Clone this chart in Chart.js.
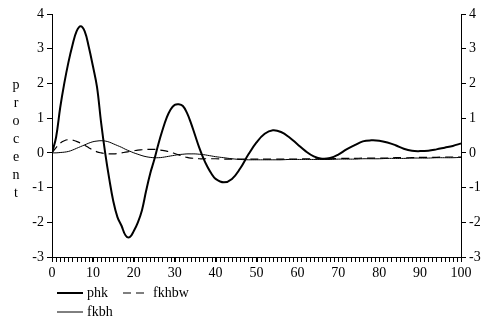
<!DOCTYPE html>
<html>
<head>
<meta charset="utf-8">
<script src="https://cdn.jsdelivr.net/npm/chart.js@4"></script>
<style>
  html, body { margin: 0; padding: 0; background: #fff; }
  #wrap { width: 484px; height: 320px; position: relative; }
</style>
</head>
<body>
<div id="wrap"><canvas id="chart" width="484" height="320"></canvas></div>
<script>
// x positions (step 1 up to 40, then step 2)
const xs = [
  0, 1, 2, 3, 4, 5, 6, 7, 8, 9, 10, 11, 12, 13, 14, 15, 16, 17, 18, 19, 20,
  21, 22, 23, 24, 25, 26, 27, 28, 29, 30, 31, 32, 33, 34, 35, 36, 37, 38, 39, 40,
  42, 44, 46, 48, 50, 52, 54, 56, 58, 60, 62, 64, 66, 68, 70,
  72, 74, 76, 78, 80, 82, 84, 86, 88, 90, 92, 94, 96, 98, 100
];

const phk = [
  0, 0.45, 1.3, 2.0, 2.6, 3.1, 3.5, 3.65, 3.5, 3.05, 2.5, 1.9, 0.88, 0.0, -0.75, -1.4, -1.85, -2.1, -2.38, -2.43, -2.25,
  -2.0, -1.65, -1.1, -0.6, -0.2, 0.25, 0.65, 1.0, 1.25, 1.38, 1.4, 1.35, 1.15, 0.85, 0.5, 0.15, -0.15, -0.4, -0.6, -0.75,
  -0.85, -0.75, -0.45, -0.05, 0.3, 0.55, 0.65, 0.6, 0.45, 0.25, 0.05, -0.1, -0.17, -0.15, -0.05,
  0.1, 0.22, 0.33, 0.36, 0.35, 0.3, 0.22, 0.12, 0.06, 0.05, 0.06, 0.1, 0.15, 0.2, 0.27
];

const fkhbw = [
  0, 0.15, 0.28, 0.35, 0.38, 0.37, 0.33, 0.28, 0.22, 0.15, 0.08, 0.03, 0.0, -0.02, -0.03, -0.03, -0.02, 0.0, 0.02, 0.04, 0.06,
  0.08, 0.09, 0.1, 0.1, 0.1, 0.09, 0.07, 0.05, 0.02, -0.02, -0.06, -0.1, -0.13, -0.15, -0.16, -0.17, -0.17, -0.17, -0.17, -0.17,
  -0.18, -0.18, -0.18, -0.18, -0.18, -0.18, -0.18, -0.18, -0.18, -0.18, -0.17, -0.17, -0.17, -0.17, -0.16,
  -0.16, -0.16, -0.15, -0.15, -0.15, -0.15, -0.14, -0.14, -0.14, -0.13, -0.13, -0.13, -0.12, -0.12, -0.12
];

const fkbh = [
  0, 0.0, 0.01, 0.02, 0.04, 0.08, 0.13, 0.18, 0.23, 0.28, 0.32, 0.34, 0.35, 0.34, 0.31, 0.26, 0.21, 0.16, 0.1, 0.05, 0.0,
  -0.04, -0.08, -0.11, -0.13, -0.14, -0.14, -0.13, -0.11, -0.09, -0.07, -0.05, -0.04, -0.03, -0.03, -0.03, -0.04, -0.05, -0.07, -0.09, -0.11,
  -0.14, -0.17, -0.19, -0.2, -0.2, -0.2, -0.2, -0.2, -0.19, -0.19, -0.19, -0.19, -0.19, -0.19, -0.18,
  -0.18, -0.18, -0.17, -0.17, -0.17, -0.16, -0.16, -0.16, -0.15, -0.15, -0.15, -0.14, -0.14, -0.14, -0.13
];

const yTitle = ['p', 'r', 'o', 'c', 'e', 'n', 't'];
// one minor tick per unit, labels every 10
const xMinorTicks = Array.from({ length: 101 }, (_, i) => i);

const FONT = { family: '"Liberation Serif", "Times New Roman", serif', size: 14 };
const INK = '#000';

const pts = arr => xs.map((x, i) => ({ x, y: arr[i] }));

// small tick marks under the x axis, one per unit
const minorTickPlugin = {
  id: 'minorTicks',
  afterDraw(chart) {
    const { ctx, scales } = chart;
    const base = Math.round(scales.y.getPixelForValue(scales.y.min));
    ctx.save();
    ctx.fillStyle = INK;
    xMinorTicks.forEach(v => {
      ctx.fillRect(Math.round(scales.x.getPixelForValue(v)), base, 1, 5);
    });
    ctx.restore();
  }
};

// legend placed like the original: two rows, bottom left
const legendPlugin = {
  id: 'legendRows',
  afterDraw(chart) {
    const ctx = chart.ctx;
    const slots = [
      { ds: 0, x: 57, y: 293 },
      { ds: 1, x: 123, y: 293 },
      { ds: 2, x: 57, y: 312 },
    ];
    ctx.save();
    ctx.font = `${FONT.size}px ${FONT.family}`;
    ctx.textBaseline = 'middle';
    ctx.fillStyle = INK;
    slots.forEach(s => {
      const d = chart.data.datasets[s.ds];
      ctx.beginPath();
      ctx.strokeStyle = d.borderColor;
      ctx.lineWidth = d.borderWidth;
      ctx.setLineDash(d.borderDash || []);
      ctx.moveTo(s.x, s.y);
      ctx.lineTo(s.x + 26, s.y);
      ctx.stroke();
      ctx.setLineDash([]);
      ctx.fillText(d.label, s.x + 30, s.y);
    });
    ctx.restore();
  }
};

// stacked vertical axis title
const yTitlePlugin = {
  id: 'yTitleStack',
  afterDraw(chart) {
    const ctx = chart.ctx;
    ctx.save();
    ctx.font = `${FONT.size}px ${FONT.family}`;
    ctx.textAlign = 'center';
    ctx.textBaseline = 'middle';
    ctx.fillStyle = INK;
    yTitle.forEach((ch, i) => ctx.fillText(ch, 16, 85 + i * 18));
    ctx.restore();
  }
};

const yAxis = (pos, w) => ({
  type: 'linear',
  position: pos,
  min: -3,
  max: 4,
  ticks: { stepSize: 1, color: INK, font: FONT, padding: 3 },
  grid: { drawOnChartArea: false, color: INK, tickLength: 5 },
  border: { color: INK, width: 1 },
  afterFit: s => { s.width = w; },
});

new Chart(document.getElementById('chart'), {
  type: 'line',
  data: {
    datasets: [
      { label: 'phk', data: pts(phk), borderColor: INK, borderWidth: 2, yAxisID: 'y' },
      { label: 'fkhbw', data: pts(fkhbw), borderColor: INK, borderWidth: 1.2, borderDash: [8, 5], yAxisID: 'y' },
      { label: 'fkbh', data: pts(fkbh), borderColor: INK, borderWidth: 1, yAxisID: 'y' },
    ],
  },
  options: {
    responsive: false,
    animation: false,
    layout: { padding: { top: 14, bottom: 38, left: 0, right: 0 } },
    elements: { point: { radius: 0 }, line: { tension: 0.4, fill: false } },
    plugins: { legend: { display: false }, tooltip: { enabled: false } },
    scales: {
      x: {
        type: 'linear',
        min: 0,
        max: 100,
        ticks: { stepSize: 10, maxRotation: 0, color: INK, font: FONT, padding: 3 },
        grid: { drawOnChartArea: false, color: INK, tickLength: 5 },
        border: { color: INK, width: 1 },
        afterFit: s => { s.height = 25; },
      },
      y: yAxis('left', 52),
      y2: yAxis('right', 23),
    },
  },
  plugins: [minorTickPlugin, legendPlugin, yTitlePlugin],
});
</script>
</body>
</html>
